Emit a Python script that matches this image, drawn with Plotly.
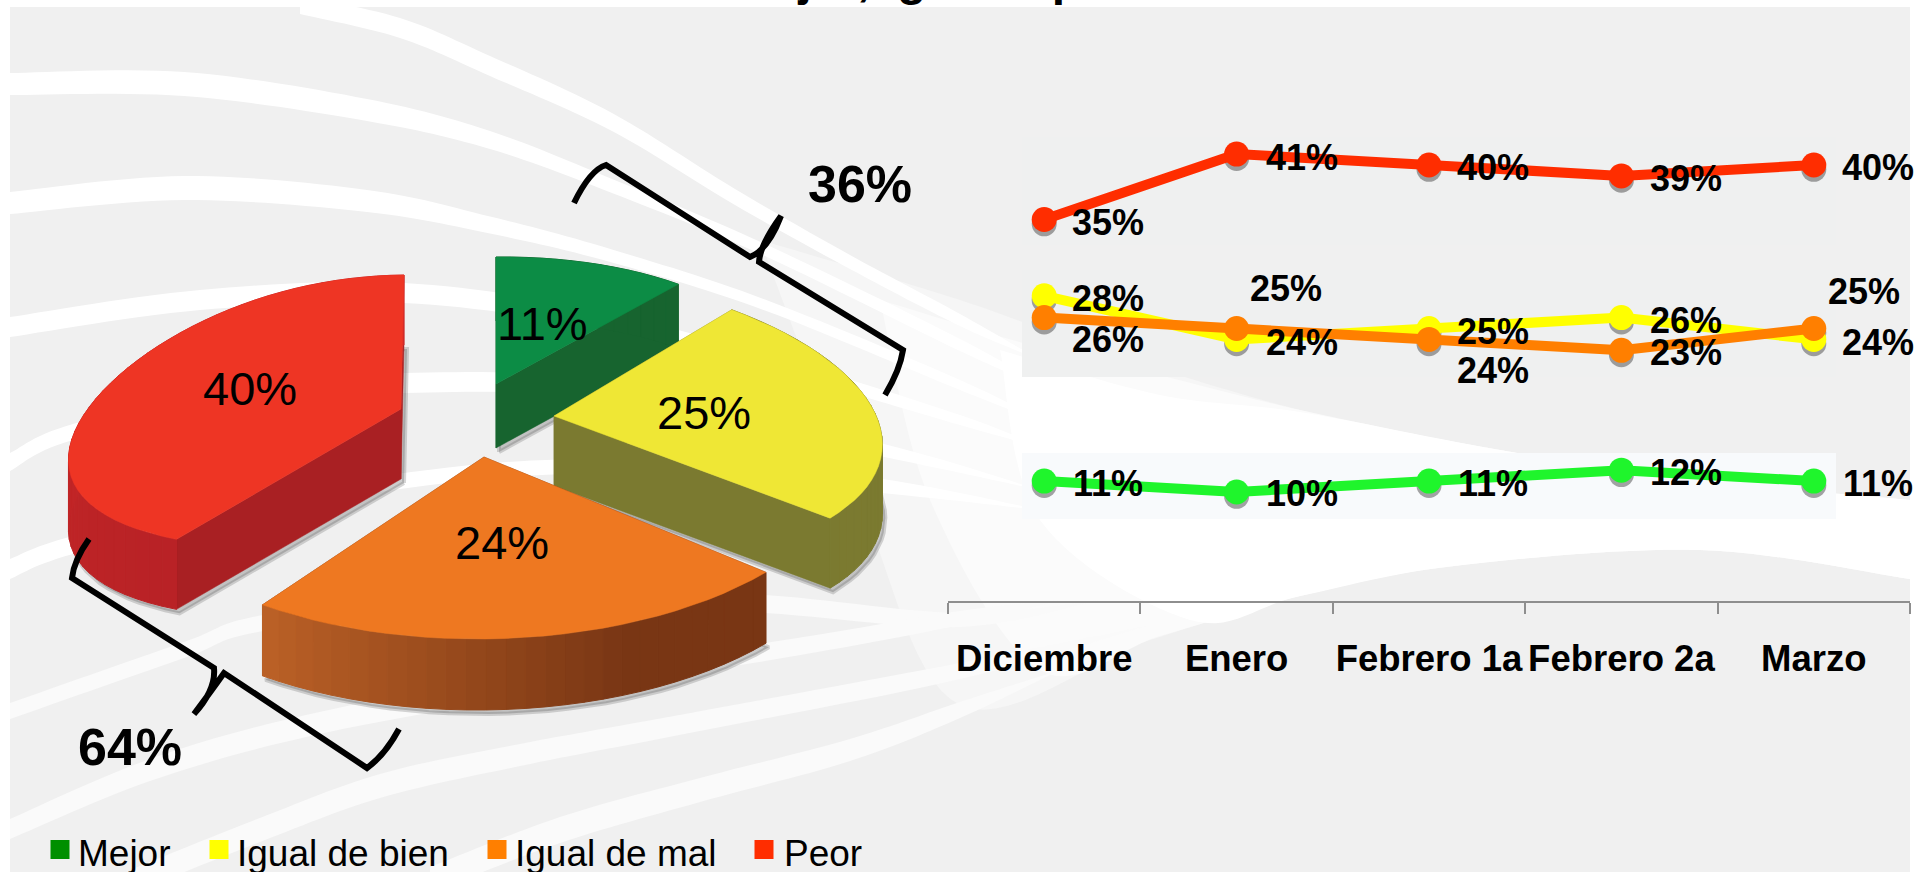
import math
import plotly.graph_objects as go

# ---------- data ----------
MONTHS = ["Diciembre", "Enero", "Febrero 1a", "Febrero 2a", "Marzo"]
MEJOR = [11, 10, 11, 12, 11]
IGUAL_BIEN = [28, 24, 25, 26, 24]
IGUAL_MAL = [26, 25, 24, 23, 25]
PEOR = [35, 41, 40, 39, 40]

PIE_NAMES = ["Mejor", "Igual de bien", "Igual de mal", "Peor"]
PIE_VALUES = [11, 25, 24, 40]
GROUP_LABELS = ["36%", "64%"]
HEADING = "mejor, igual o peor"

# ---------- colours / layout ----------
W, H = 1929, 872
FONT = "Liberation Sans"
LINE_COLORS = {"Mejor": "#1ff52c", "Igual de bien": "#ffff00", "Igual de mal": "#ff7f00", "Peor": "#ff2d00"}
KEY_COLORS = ["#008f00", "#ffff00", "#ff7f00", "#ff2d00"]
KEY_SWATCH_X = [60, 219, 497, 764]
KEY_TEXT_X = [76, 235, 513, 782]
BG = "#f0f0f0"

PX_PER_UNIT = 10.9
AXIS_Y = 601
Y_TOP = 46

# label pixel offsets from each marker (dx, dy), per series
OFFS = {
    "Peor": [(64, 3), (65, 3), (64, 3), (65, 3), (64, 3)],
    "Igual de bien": [(64, 3), (65, 3), (64, 3), (65, 3), (64, 3)],
    "Igual de mal": [(64, 22), (49, -40), (64, 31), (65, 2), (50, -37)],
    "Mejor": [(64, 2), (65, 2), (64, 2), (65, 2), (64, 2)],
}

# slice geometry: apex, two ellipse axes, rim warp, depth, colours
PIE_STYLE = [
    dict(c=(496, 384), u=(286, -3), v=(0, -127), w=(0, 0), d=64, top="#0c8c45", wall="#17642f", side=("#17642f", "#17642f")),
    dict(c=(554, 416), u=(326, 11), v=(-39, -147), w=(0, 0), d=70, top="#efe735", wall="#7b7a30", side=("#7b7a30", "#7b7a30")),
    dict(c=(484, 457), u=(370, -1), v=(5, -182), w=(0, 0), d=71, top="#ee7821", wall="#7a3614", side=("#793614", "#bd6227")),
    dict(c=(401, 409), u=(326, -22), v=(3, -134), w=(-32, 9.5), d=70, top="#ee3524", wall="#a92023", side=("#b92226", "#cf2b28")),
]
PIE_LABEL_XY = [(542, 323), (704, 412), (502, 542), (250, 388)]
GROUP_XY = [(860, 184), (130, 747)]


def lerp_hex(a, b, t):
    ca = [int(a[i:i + 2], 16) for i in (1, 3, 5)]
    cb = [int(b[i:i + 2], 16) for i in (1, 3, 5)]
    return "#" + "".join(f"{round(x + (y - x) * t):02x}" for x, y in zip(ca, cb))


def catmull(points, n=14):
    pts = [points[0]] + list(points) + [points[-1]]
    out = []
    for i in range(1, len(pts) - 2):
        p0, p1, p2, p3 = pts[i - 1], pts[i], pts[i + 1], pts[i + 2]
        for k in range(n):
            t = k / n
            out.append(tuple(
                0.5 * (2 * p1[j] + (p2[j] - p0[j]) * t + (2 * p0[j] - 5 * p1[j] + 4 * p2[j] - p3[j]) * t ** 2
                       + (3 * p1[j] - p0[j] - 3 * p2[j] + p3[j]) * t ** 3)
                for j in range(2)))
    out.append(points[-1])
    return out


def band(top, bottom, color="#ffffff"):
    a, b = catmull(top), catmull(bottom)
    poly = a + b[::-1]
    path = "M " + " L ".join(f"{x:.1f},{y:.1f}" for x, y in poly) + " Z"
    return dict(type="path", path=path, xref="x", yref="y", fillcolor=color, line_width=0, layer="below")


def ribbon(center, widths, color="#ffffff"):
    top = [(x, y - w / 2) for (x, y), w in zip(center, widths)]
    bot = [(x, y + w / 2) for (x, y), w in zip(center, widths)]
    return band(top, bot, color)


SOFT = "#fafafa"
shapes = [dict(type="rect", xref="x", yref="y", x0=10, x1=1910, y0=7, y1=872,
               fillcolor=BG, line_width=0, layer="below")]

# sweeping white ribbons of the slide background
shapes += [
    band([(760, 240), (960, 300), (1100, 350), (1300, 410), (1500, 450), (1700, 480), (1910, 500)],
         [(760, 240), (860, 500), (960, 705), (1150, 640), (1300, 596), (1454, 566), (1700, 550), (1910, 579)], "#f6f6f6"),
    band([(880, 300), (1030, 345), (1120, 365), (1300, 410), (1500, 450), (1700, 480), (1910, 500)],
         [(880, 300), (930, 500), (1040, 670), (1160, 636), (1300, 596), (1454, 566), (1700, 550), (1910, 579)], "#fbfbfb"),
    band([(1000, 350), (1160, 395), (1300, 412), (1500, 450), (1700, 480), (1910, 500)],
         [(1000, 350), (1040, 520), (1190, 620), (1300, 596), (1454, 566), (1700, 550), (1910, 579)], "#ffffff"),
    ribbon([(300, 5), (400, 28), (490, 66), (612, 122), (735, 197), (850, 262), (960, 320), (1040, 360)], [18, 20, 20, 18, 16, 14, 12, 0]),
    ribbon([(10, 84), (184, 84), (367, 110), (490, 140), (612, 186), (765, 250), (960, 345), (1050, 390)], [22, 24, 22, 18, 14, 12, 12, 0]),
    ribbon([(10, 203), (184, 188), (367, 201), (490, 225), (612, 256), (765, 305), (960, 385), (1050, 425)], [22, 24, 22, 17, 13, 11, 10, 0]),
    ribbon([(10, 327), (200, 300), (404, 293), (600, 320), (800, 372), (960, 420), (1050, 450)], [20, 20, 20, 18, 14, 10, 0]),
    ribbon([(10, 462), (73, 432), (250, 395), (404, 383), (600, 390), (882, 450), (1040, 490)], [18, 16, 18, 20, 18, 13, 0]),
    ribbon([(10, 569), (73, 545), (250, 505), (500, 470), (700, 470), (882, 486), (1040, 510)], [20, 18, 16, 15, 14, 14, 0]),
    ribbon([(10, 711), (184, 650), (263, 623), (500, 590), (765, 604), (960, 620), (1100, 600)], [16, 16, 16, 18, 18, 14, 0], SOFT),
    ribbon([(10, 829), (150, 770), (306, 726), (500, 690), (765, 652), (960, 618), (1060, 600)], [20, 22, 22, 22, 18, 14, 0], SOFT),
    ribbon([(135, 880), (260, 830), (380, 786), (520, 755), (674, 726), (960, 671), (1150, 625)], [24, 24, 24, 22, 20, 16, 0], SOFT),
    ribbon([(430, 880), (560, 830), (700, 790), (850, 750), (960, 710), (1060, 670)], [26, 26, 24, 22, 16, 0], SOFT),
    # quiet panels behind the line series
    dict(type="rect", xref="x", yref="y", x0=1022, x1=1836, y0=137, y1=245, fillcolor="#eff0f0", line_width=0, layer="below"),
    dict(type="rect", xref="x", yref="y", x0=1022, x1=1836, y0=270, y1=377, fillcolor="#eff0f0", line_width=0, layer="below"),
    dict(type="rect", xref="x", yref="y", x0=1022, x1=1836, y0=453, y1=519, fillcolor="#f8fafc", line_width=0, layer="below"),
]

# braces
BRACES = [
    "M574,203 Q590,170 606,165 L750,257 Q768,250 781,216 Q760,245 759,262 L903,350 Q900,370 885,395",
    "M89,539 Q74,560 72,578 L214,668 Q216,690 194,714 Q212,690 224,673 L367,768 Q385,755 399,729",
]
shapes += [dict(type="path", path=p, xref="x", yref="y", line=dict(color="#000000", width=6), layer="above")
           for p in BRACES]

fig = go.Figure()


def poly_trace(xs, ys, fill, line=None, width=0):
    fig.add_trace(go.Scatter(x=xs + xs[:1], y=ys + ys[:1], mode="lines",
                             fill="toself", fillcolor=fill,
                             line=dict(color=line or fill, width=width if line else 0.5),
                             hoverinfo="skip", showlegend=False))


# ---------- exploded 3-D pie, angles derived from PIE_VALUES ----------
total = sum(PIE_VALUES)
angles = [0]
for val in PIE_VALUES:
    angles.append(angles[-1] + 360 * val / total)


def rim(style, deg):
    s, co, s2 = math.sin(math.radians(deg)), math.cos(math.radians(deg)), math.sin(math.radians(2 * deg))
    return tuple(style["c"][j] + style["u"][j] * s + style["v"][j] * co + style["w"][j] * s2 for j in (0, 1))


def draw_slice(i):
    st = PIE_STYLE[i]
    a0, a1 = angles[i], angles[i + 1]
    steps = max(6, int((a1 - a0) / 3))
    degs = [a0 + (a1 - a0) * k / steps for k in range(steps + 1)]
    arc = [rim(st, d) for d in degs]
    apex = st["c"]
    dep = st["d"]
    # soft shadow
    sx = [apex[0] + 3] + [p[0] + 3 for p in arc]
    sy = [apex[1] + dep + 4] + [p[1] + dep + 4 for p in arc]
    poly_trace(sx, sy, "rgba(90,90,90,0.30)", "rgba(90,90,90,0.25)", 4)
    # walls
    for p in (arc[0], arc[-1]):
        poly_trace([apex[0], p[0], p[0], apex[0]], [apex[1], p[1], p[1] + dep, apex[1] + dep], st["wall"])
    # rim strips
    for k in range(steps):
        t = k / steps
        if i == 2:
            t = max(0, (t - 0.3) / 0.7)
        col = lerp_hex(st["side"][0], st["side"][1], t)
        p, q = arc[k], arc[k + 1]
        poly_trace([p[0], q[0], q[0], p[0]], [p[1], q[1], q[1] + dep, p[1] + dep], col, col, 1)
    # top face
    poly_trace([apex[0]] + [p[0] for p in arc], [apex[1]] + [p[1] for p in arc], st["top"])


for idx in (0, 1, 3, 2):
    draw_slice(idx)

# legend keys
fig.add_trace(go.Scatter(x=KEY_SWATCH_X, y=[849.5] * 4, mode="markers",
                         marker=dict(symbol="square", size=19, color=KEY_COLORS, line_width=0),
                         hoverinfo="skip", showlegend=False))

# ---------- line chart ----------
SERIES = [("Mejor", MEJOR), ("Peor", PEOR), ("Igual de bien", IGUAL_BIEN), ("Igual de mal", IGUAL_MAL)]
for name, vals in SERIES:
    fig.add_trace(go.Scatter(x=MONTHS, y=[v - 0.4 for v in vals], xaxis="x2", yaxis="y2", mode="markers",
                             marker=dict(size=25, color="rgba(40,40,40,0.42)"),
                             hoverinfo="skip", showlegend=False))
for name, vals in SERIES:
    fig.add_trace(go.Scatter(x=MONTHS, y=vals, xaxis="x2", yaxis="y2", name=name, mode="lines+markers",
                             line=dict(color=LINE_COLORS[name], width=10),
                             marker=dict(size=25, color=LINE_COLORS[name], line_width=0),
                             hoverinfo="skip", showlegend=False))

annotations = []
for name, vals in [("Peor", PEOR), ("Igual de bien", IGUAL_BIEN), ("Igual de mal", IGUAL_MAL), ("Mejor", MEJOR)]:
    for m, v, (dx, dy) in zip(MONTHS, vals, OFFS[name]):
        annotations.append(dict(x=m, y=v, xref="x2", yref="y2", text=f"{v}%", showarrow=False,
                                xshift=dx, yshift=-dy,
                                font=dict(family=FONT, size=36, color="#000000", weight="bold")))

for (x, y), val in zip(PIE_LABEL_XY, PIE_VALUES):
    annotations.append(dict(x=x, y=y, xref="x", yref="y", text=f"{val}%", showarrow=False,
                            font=dict(family=FONT, size=47, color="#000000")))
for (x, y), txt in zip(GROUP_XY, GROUP_LABELS):
    annotations.append(dict(x=x, y=y, xref="x", yref="y", text=txt, showarrow=False,
                            font=dict(family=FONT, size=52, color="#000000", weight="bold")))
for x, txt in zip(KEY_TEXT_X, PIE_NAMES):
    annotations.append(dict(x=x, y=853, xref="x", yref="y", text=txt, showarrow=False, xanchor="left",
                            font=dict(family=FONT, size=37, color="#000000")))
annotations.append(dict(x=727, y=7, xref="x", yref="y", text=HEADING, showarrow=False,
                        xanchor="left", yanchor="bottom",
                        font=dict(family=FONT, size=48, color="#000000", weight="bold")))

fig.update_layout(
    width=W, height=H, margin=dict(l=0, r=0, t=0, b=0),
    paper_bgcolor="#ffffff", plot_bgcolor="rgba(0,0,0,0)",
    hovermode=False, showlegend=False,
    shapes=shapes, annotations=annotations,
    xaxis2=dict(domain=[948 / W, 1910 / W], type="category", categoryorder="array", categoryarray=MONTHS,
                range=[-0.5, 4.5], anchor="y2", showgrid=False, zeroline=False,
                showline=True, linecolor="#8e8e8e", linewidth=2,
                ticks="outside", tickson="boundaries", ticklen=11, tickcolor="#8e8e8e", tickwidth=2,
                tickangle=0, ticklabelstandoff=24,
                tickfont=dict(family=FONT, size=36.5, color="#000000", weight="bold")),
    yaxis2=dict(domain=[(H - AXIS_Y) / H, (H - AXIS_Y + Y_TOP * PX_PER_UNIT) / H], range=[0, Y_TOP],
                anchor="x2", visible=False),
    xaxis=dict(domain=[0, 1], range=[0, W], anchor="y", visible=False),
    yaxis=dict(domain=[0, 1], range=[H, 0], anchor="x", visible=False),
)

fig.write_html("out.html", config=dict(displayModeBar=False),
               post_script="document.body.style.margin='0';document.documentElement.style.overflow='hidden';")
